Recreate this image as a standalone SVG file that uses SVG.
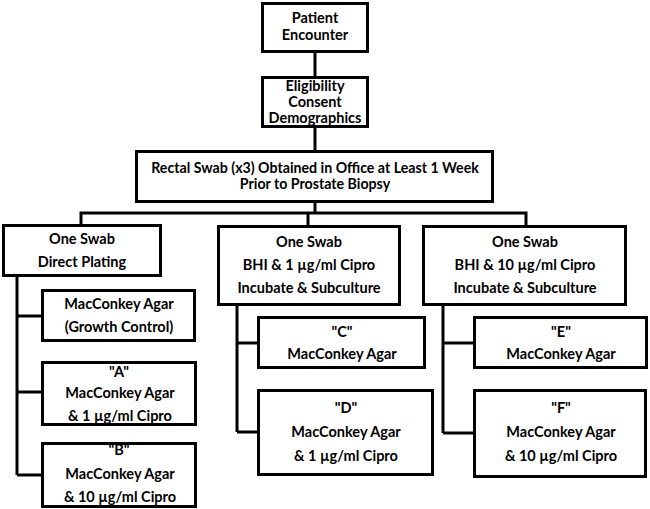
<svg xmlns="http://www.w3.org/2000/svg" width="650" height="509" viewBox="0 0 650 509">
<style>
rect{fill:#fff;stroke:#000;stroke-width:3}
.c path{fill:none;stroke:#000;stroke-width:3}
text{font-family:Lato,"Open Sans","Liberation Sans",sans-serif;font-weight:bold;font-size:14.5px;text-anchor:middle;fill:#000}
.s{font-size:14.2px}
</style>
<rect x="0" y="0" width="650" height="509" style="stroke:none"/>
<g class="c" id="connectors">
<path d="M315 53V77M315 128V151M315 203V213M81 224V213H526V225M308 213V225"/>
<path d="M17 277V475M17 316H42M17 392H42M17 475H42"/>
<path d="M237 306V432M237 343H258M237 432H258"/>
<path d="M443 306V433M443 343H474M443 433H474"/>
</g>
<g id="patient"><rect x="262.5" y="3.5" width="105" height="48"/><text x="315" y="23">Patient</text><text x="315" y="40">Encounter</text></g>
<g id="eligibility"><rect x="262.5" y="77.5" width="105" height="49"/><text x="315" y="91">Eligibility</text><text x="315" y="107">Consent</text><text x="315" y="123">Demographics</text></g>
<g id="rectal"><rect x="136.5" y="151.5" width="356" height="50"/><text class="s" x="315" y="173">Rectal Swab (x3) Obtained in Office at Least 1 Week</text><text class="s" x="315" y="189">Prior to Prostate Biopsy</text></g>
<g id="direct"><rect x="3.5" y="225.5" width="157" height="50"/><text x="82" y="244">One Swab</text><text x="82" y="267">Direct Plating</text></g>
<g id="bhi1"><rect x="218.5" y="226.5" width="181" height="78"/><text x="309" y="247">One Swab</text><text x="309" y="270">BHI &amp; 1 µg/ml Cipro</text><text x="309" y="293">Incubate &amp; Subculture</text></g>
<g id="bhi10"><rect x="423.5" y="226.5" width="202" height="78"/><text x="525" y="247">One Swab</text><text x="525" y="270">BHI &amp; 10 µg/ml Cipro</text><text x="525" y="293">Incubate &amp; Subculture</text></g>
<g id="growth"><rect x="42.5" y="290.5" width="152" height="50"/><text x="119" y="309">MacConkey Agar</text><text x="119" y="332">(Growth Control)</text></g>
<g id="a"><rect x="42.5" y="362.5" width="153" height="62"/><text x="119" y="377">"A"</text><text x="120" y="398">MacConkey Agar</text><text x="120" y="421">&amp; 1 µg/ml Cipro</text></g>
<g id="b"><rect x="42.5" y="443.5" width="153" height="63"/><text x="119" y="455">"B"</text><text x="120" y="479">MacConkey Agar</text><text x="120" y="502">&amp; 10 µg/ml Cipro</text></g>
<g id="c"><rect x="258.5" y="317.5" width="166" height="50"/><text x="342" y="337">"C"</text><text x="342" y="359">MacConkey Agar</text></g>
<g id="d"><rect x="258.5" y="390.5" width="174" height="84"/><text x="346" y="413">"D"</text><text x="346" y="437">MacConkey Agar</text><text x="346" y="461">&amp; 1 µg/ml Cipro</text></g>
<g id="e"><rect x="474.5" y="317.5" width="172" height="50"/><text x="561" y="337">"E"</text><text x="561" y="359">MacConkey Agar</text></g>
<g id="f"><rect x="474.5" y="390.5" width="171" height="86"/><text x="561" y="413">"F"</text><text x="561" y="437">MacConkey Agar</text><text x="561" y="461">&amp; 10 µg/ml Cipro</text></g>
</svg>
